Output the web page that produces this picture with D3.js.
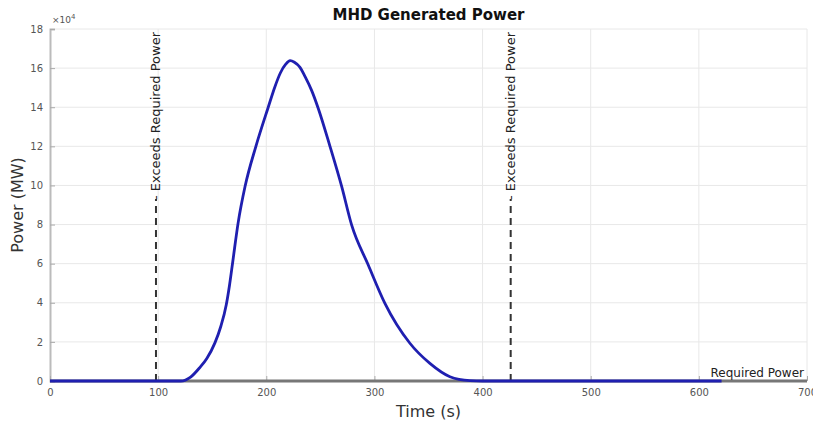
<!DOCTYPE html>
<html><head><meta charset="utf-8">
<script src="https://cdn.jsdelivr.net/npm/d3@7"></script>
<style>body{margin:0;background:#fff}svg{display:block;font-family:"DejaVu Sans",sans-serif}</style>
</head><body><svg id="c" width="813" height="422"></svg>
<script>
// Data (time in s, power in MW)
const timeS = [0,100,115,121,130,138.7,145,152.5,158,163,166,169,174,180.3,190.4,201.8,208,213,218,222,226,231,236,242,248,258.9,269.7,278.9,294.3,309.7,332.8,351.3,369.8,388.3,400,500,621];
const powerMW = [0,0,0,0,2000,7000,11500,19500,28000,39000,49000,61000,81000,99300,120000,140000,150500,157500,162000,163800,163000,160500,155500,148500,139500,120000,99500,79800,59300,39700,19300,9000,2200,200,0,0,0];
const requiredPower = 0;
const exceedTimes = [98, 426];
const xTicks = [0,100,200,300,400,500,600,700];
const yTicks = [0,20000,40000,60000,80000,100000,120000,140000,160000,180000];

const svg = d3.select("#c");
const L=50, R=807, T=29, B=381;
const x = d3.scaleLinear().domain([0,700]).range([L,R]);
const y = d3.scaleLinear().domain([0,180000]).range([B,T]);

// grid
svg.append("g").selectAll("line").data(xTicks.slice(1)).join("line")
  .attr("x1",d=>x(d)).attr("x2",d=>x(d)).attr("y1",T).attr("y2",B)
  .attr("stroke","#e8e8e8").attr("stroke-width",1);
svg.append("g").selectAll("line").data(yTicks.slice(1)).join("line")
  .attr("x1",L).attr("x2",R).attr("y1",d=>y(d)).attr("y2",d=>y(d))
  .attr("stroke","#e8e8e8").attr("stroke-width",1);

// axes
const yAxis = d3.axisLeft(y).tickValues(yTicks).tickFormat(d=>d/10000).tickSize(-5).tickPadding(7);
const gy = svg.append("g").attr("transform",`translate(${L},0)`).call(yAxis);
gy.select(".domain").attr("stroke","#bbb").attr("stroke-width",2);
gy.selectAll(".tick line").attr("stroke","#aaa");
gy.selectAll("text").attr("fill","#555").attr("font-size",10).attr("font-family","DejaVu Sans");

const xAxis = d3.axisBottom(x).tickValues(xTicks).tickFormat(d3.format("d")).tickSize(-5).tickPadding(8);
const gx = svg.append("g").attr("transform",`translate(0,${B})`).call(xAxis);
gx.select(".domain").remove();
gx.selectAll(".tick line").attr("stroke","#aaa");
gx.selectAll("text").attr("fill","#555").attr("font-size",10).attr("font-family","DejaVu Sans");

// exponent
const ex = svg.append("text").attr("x",L+2).attr("y",T-6).attr("fill","#555").attr("font-size",9);
ex.append("tspan").text("×10");
ex.append("tspan").attr("dy",-4).attr("font-size",7).text("4");

// required power line
svg.append("line").attr("x1",L).attr("x2",R).attr("y1",y(requiredPower)).attr("y2",y(requiredPower))
  .attr("stroke","#777").attr("stroke-width",3);
svg.append("text").attr("x",R-3).attr("y",y(requiredPower)-4).attr("text-anchor","end")
  .attr("font-size",12).attr("fill","#222").text("Required Power");

// exceed lines
exceedTimes.forEach(t=>{
  svg.append("line").attr("x1",x(t)).attr("x2",x(t)).attr("y1",B).attr("y2",199)
    .attr("stroke","#333").attr("stroke-width",2).attr("stroke-dasharray","7,5");
  svg.append("text").attr("transform",`translate(${x(t)+4.5},${T+3}) rotate(-90)`)
    .attr("text-anchor","end").attr("font-size",13).attr("fill","#222").text("- Exceeds Required Power");
});

// power curve
const line = d3.line().x((d,i)=>x(timeS[i])).y(d=>y(d)).curve(d3.curveMonotoneX);
svg.append("path").attr("d",line(powerMW)).attr("fill","none")
  .attr("stroke","#1f1fb0").attr("stroke-width",2.8).attr("stroke-linejoin","round");

// labels
svg.append("text").attr("x",(L+R)/2).attr("y",20).attr("text-anchor","middle")
  .attr("font-size",15).attr("font-weight","bold").attr("fill","#111").text("MHD Generated Power");
svg.append("text").attr("x",(L+R)/2).attr("y",417).attr("text-anchor","middle")
  .attr("font-size",16).attr("fill","#333").text("Time (s)");
svg.append("text").attr("transform",`translate(23,${(T+B)/2}) rotate(-90)`).attr("text-anchor","middle")
  .attr("font-size",16).attr("fill","#333").text("Power (MW)");
</script></body></html>
